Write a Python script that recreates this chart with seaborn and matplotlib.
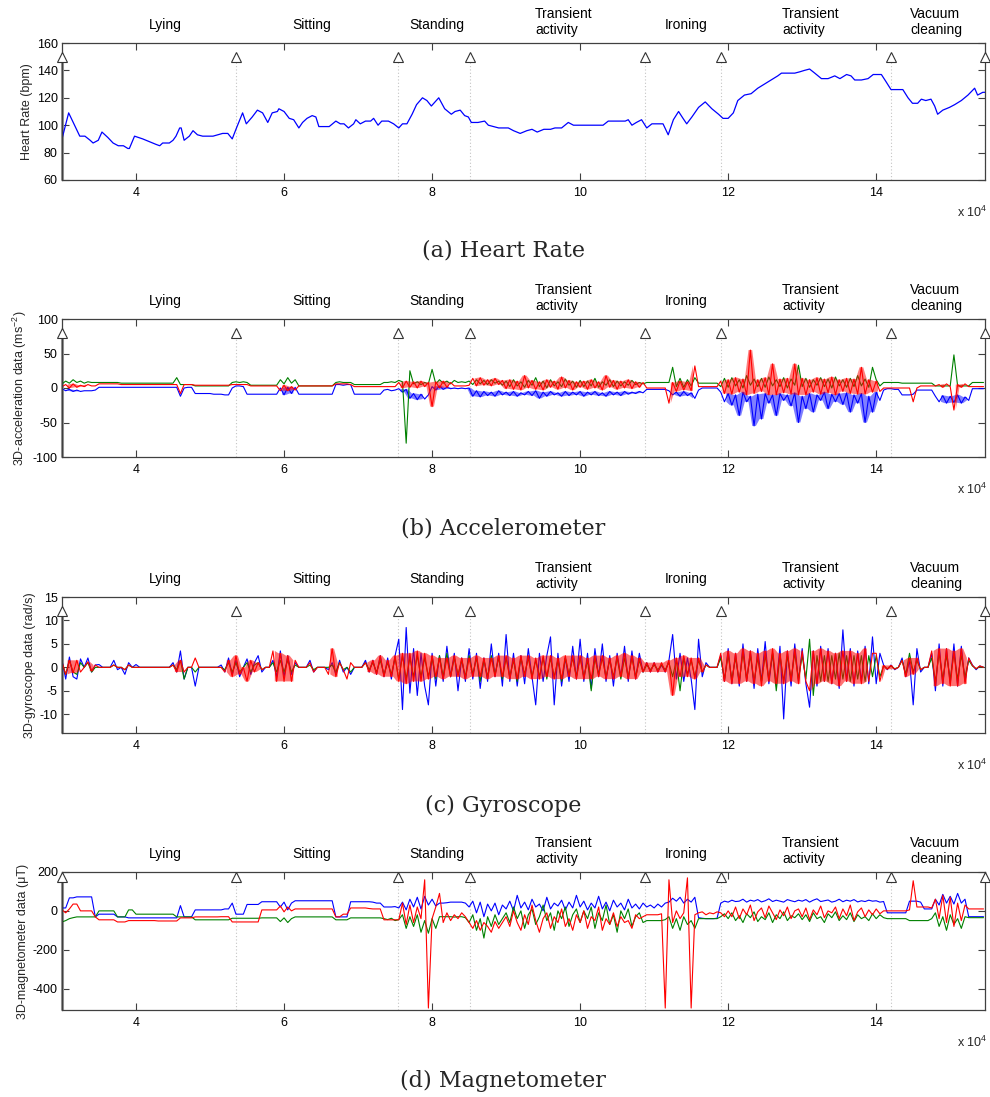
import numpy as np
import pandas as pd
import matplotlib
matplotlib.use("Agg")
import matplotlib.pyplot as plt
import seaborn as sns

sns.set_theme(style="ticks")
plt.rcParams["font.family"] = ["Liberation Sans", "DejaVu Sans"]
plt.rcParams["axes.unicode_minus"] = False
plt.rcParams["mathtext.fontset"] = "custom"
plt.rcParams["mathtext.rm"] = "Liberation Sans"
plt.rcParams["mathtext.it"] = "Liberation Sans:italic"

# ---------------- data (time in units of 1e4 samples) ----------------
boundaries = [3.0, 5.35, 7.54, 8.51, 10.88, 11.90, 14.20, 15.47]
activity_names = ["Lying", "Sitting", "Standing", "Transient\nactivity",
                  "Ironing", "Transient\nactivity", "Vacuum\ncleaning"]
activity_pos = [4.40, 6.38, 8.07, 9.78, 11.43, 13.12, 14.81]

hr_points = [(3.00, 90), (3.09, 109), (3.17, 100), (3.24, 92), (3.31, 92), (3.38, 89), (3.42, 87),
             (3.49, 89), (3.54, 95), (3.62, 91), (3.69, 87), (3.76, 85), (3.83, 85), (3.89, 83),
             (3.91, 83), (3.98, 92), (4.09, 90), (4.18, 88), (4.27, 86), (4.32, 85), (4.36, 87),
             (4.45, 87), (4.50, 89), (4.54, 92), (4.59, 98), (4.61, 98), (4.65, 89), (4.72, 92),
             (4.77, 96), (4.83, 93), (4.90, 92), (5.04, 92), (5.17, 94), (5.24, 94), (5.30, 90),
             (5.35, 97), (5.44, 109), (5.49, 101), (5.57, 106), (5.64, 111), (5.71, 109), (5.78, 102),
             (5.84, 109), (5.91, 110), (5.93, 112), (6.00, 110), (6.07, 105), (6.13, 104), (6.20, 98),
             (6.25, 102), (6.31, 105), (6.38, 107), (6.43, 106), (6.47, 99), (6.61, 99), (6.70, 103),
             (6.76, 101), (6.81, 101), (6.87, 98), (6.94, 101), (6.97, 104), (7.03, 101), (7.10, 103),
             (7.17, 103), (7.21, 105), (7.27, 100), (7.32, 103), (7.41, 103), (7.48, 101), (7.55, 98),
             (7.60, 101), (7.66, 101), (7.73, 108), (7.79, 115), (7.87, 120), (7.93, 118), (7.99, 114),
             (8.04, 117), (8.09, 120), (8.17, 112), (8.26, 108), (8.31, 110), (8.38, 111), (8.44, 107),
             (8.49, 106), (8.53, 102), (8.62, 102), (8.71, 103), (8.76, 100), (8.90, 98), (9.03, 98),
             (9.10, 96), (9.19, 94), (9.28, 96), (9.35, 97), (9.42, 95), (9.51, 97), (9.60, 97),
             (9.66, 98), (9.75, 98), (9.84, 102), (9.91, 100), (10.02, 100), (10.11, 100), (10.20, 100),
             (10.31, 100), (10.38, 103), (10.49, 103), (10.61, 103), (10.65, 104), (10.70, 100),
             (10.76, 102), (10.83, 104), (10.90, 98), (10.97, 101), (11.01, 101), (11.12, 101),
             (11.19, 93), (11.26, 104), (11.33, 110), (11.39, 105), (11.44, 101), (11.51, 106),
             (11.60, 113), (11.69, 117), (11.78, 112), (11.87, 108), (11.93, 105), (12.00, 105),
             (12.07, 109), (12.13, 118), (12.22, 122), (12.31, 123), (12.40, 127), (12.49, 130),
             (12.58, 133), (12.67, 136), (12.72, 138), (12.81, 138), (12.90, 138), (12.97, 139),
             (13.03, 140), (13.10, 141), (13.17, 138), (13.26, 134), (13.35, 134), (13.44, 136),
             (13.51, 134), (13.60, 137), (13.66, 136), (13.71, 133), (13.80, 133), (13.89, 134),
             (13.96, 137), (14.07, 137), (14.13, 132), (14.20, 126), (14.36, 126), (14.43, 120),
             (14.49, 116), (14.56, 116), (14.61, 119), (14.67, 118), (14.74, 119), (14.79, 114),
             (14.83, 108), (14.90, 111), (14.99, 113), (15.06, 115), (15.15, 118), (15.24, 122),
             (15.33, 127), (15.37, 122), (15.44, 124), (15.50, 124)]

# sensor rows: row r holds samples at t = 3 + r + 0.05*j
acc_blue = [
    [-1, -4, -2, -5, -3, -5, -4, -4, -4, -3, 1, 1, 1, 1, 1, 1, 1, 1, 1, 1],
    [1, 1, 1, 1, 1, 1, 1, 1, 1, 1, 1, 1, -12, 0, 1, 1, -8, -8, -8, -8],
    [-8, -9, -9, -9, -10, -10, 0, 3, 3, 2, -9, -9, -9, -9, -9, -9, -9, -9, -9, 0],
    [-10, 1, -8, 1, -9, -9, -9, -9, -9, -9, -9, -9, -9, -9, 5, 5, 4, 5, 5, -9],
    [-9, -9, -9, -9, -9, -9, -9, -3, -2, -4, -3, -1, -6, -2, -15, -8, -17, -9, -16, -10],
    [2, -3, 3, -2, 1, -1, 0, -1, 0, -1, 0, -12, -4, -13, -5, -11, -6, -12, -4, -10],
    [-6, -11, -5, -12, -7, -10, -5, -11, -4, -15, -6, -12, -5, -10, -7, -12, -5, -11, -6, -10],
    [-5, -12, -6, -10, -5, -11, -7, -12, -5, -10, -6, -11, -5, -9, -6, -8, -5, -7, -2, -2],
    [-2, -2, -2, -2, -4, -10, -6, -12, -5, -11, -7, -15, -3, 0, 0, 0, 0, 0, -6, -20],
    [-8, -25, -10, -40, -6, -20, -12, -55, -9, -45, -8, -22, -10, -40, -8, -18, -10, -26, -7, -50],
    [-12, -30, -8, -35, -10, -18, -6, -30, -9, -20, -8, -24, -7, -35, -10, -22, -8, -50, -12, -35],
    [-6, -18, -3, -1, -1, -2, -2, -10, -10, -10, -9, -3, -3, -3, -3, -3, -12, -20, -11, -22],
    [-12, -21, -10, -22, -13, -18, -1, -1, -1, -1],
]
acc_green = [
    [6, 10, 7, 12, 8, 10, 7, 9, 8, 8, 8, 8, 8, 8, 8, 8, 7, 7, 7, 7],
    [7, 7, 7, 7, 7, 7, 7, 7, 7, 7, 7, 15, 5, 5, 5, 5, 3, 3, 3, 3],
    [3, 3, 3, 3, 3, 3, 8, 9, 8, 9, 8, 4, 4, 4, 4, 4, 4, 4, 4, 12],
    [6, 15, 7, 12, 3, 3, 3, 3, 3, 3, 3, 3, 3, 3, 8, 9, 8, 8, 8, 5],
    [5, 5, 5, 5, 5, 5, 5, 8, 8, 9, 8, 11, 9, -80, 25, 6, 9, 5, 8, 6],
    [27, 6, 12, 7, 10, 6, 11, 8, 9, 8, 10, 5, 12, 6, 11, 5, 12, 7, 10, 4],
    [10, 2, 12, 3, 9, 1, 11, 4, 15, 2, 10, 0, 12, 3, 9, 2, 13, 4, 10, 1],
    [11, 2, 10, 3, 14, 1, 9, 4, 12, 2, 10, 3, 9, 4, 11, 5, 8, 6, 8, 8],
    [8, 8, 8, 8, 8, 30, 2, 14, 1, 12, 3, 15, 7, 7, 7, 7, 7, 7, 2, 14],
    [1, 15, 3, 12, 0, 18, 4, 13, 2, 14, 1, 16, 3, 12, 2, 15, 0, 13, 4, 33],
    [2, 14, 1, 12, 4, 15, 2, 13, 0, 16, 3, 12, 1, 14, 2, 18, 3, 13, 1, 30],
    [12, 3, 8, 8, 8, 8, 8, 7, 7, 7, 7, 7, 7, 7, 7, 7, 3, 3, 3, 3],
    [3, 48, 3, 3, 3, 3, 8, 8, 8, 8],
]
acc_red = [
    [2, 5, 0, 6, 1, 4, 2, 5, 3, 3, 6, 6, 6, 6, 6, 6, 5, 5, 5, 5],
    [5, 5, 5, 5, 5, 5, 5, 5, 5, 5, 5, 5, -8, 5, 5, 5, 4, 4, 4, 4],
    [4, 4, 4, 4, 4, 4, 5, 5, 5, 5, 5, 3, 3, 3, 3, 3, 3, 3, 3, -4],
    [4, -4, 2, -3, 3, 3, 3, 3, 3, 3, 3, 3, 3, 3, 6, 6, 6, 6, 5, 2],
    [2, 2, 2, 2, 2, 2, 2, 2, 2, 2, 2, 8, 0, 10, 1, 9, 0, 10, 2, 8],
    [-27, 9, 0, 10, 1, 8, 3, 3, 3, 3, 4, 14, 3, 15, 4, 12, 3, 14, 5, 11],
    [-1, 12, -2, 10, -3, 18, 0, 11, -2, 9, -3, 12, 1, 10, -2, 16, 0, 11, -3, 9],
    [1, 10, -2, 12, 0, 9, -3, 18, 1, 11, -2, 10, 0, 12, -1, 9, 1, 8, 0, 0],
    [0, 0, 0, 0, -22, 8, -5, 10, -3, 9, -4, 32, 2, 2, 2, 2, 2, 2, 10, -8],
    [12, -9, 15, -6, 13, -10, 55, -8, 12, -5, 15, -10, 35, -10, 13, -7, 14, -9, 35, -10],
    [14, -10, 12, -6, 15, -9, 13, -7, 16, -10, 12, -5, 14, -8, 13, -9, 30, -9, 12, -6],
    [10, -5, 0, 0, 0, 0, 0, 0, 0, 0, -20, 0, 3, 3, 3, 3, 3, 5, 1, 6],
    [2, -32, 5, 1, 6, 2, 2, 2, 2, 2],
]

gyro_blue = [
    [1.5, -2.5, 2.2, -2, -2.5, 1.8, 0, 2, -1, 0.5, 0.6, 0, 0, 0, 1.5, -0.5, 0, -1.5, 1, 0],
    [0.6, 0, 0, 0, 0, 0, 0, 0, 0, 0, 1, -1, 3.5, -2.5, 0, 0, -4, 0, 0, 0],
    [0, 0, 0, 0.5, -1, 2, -1.5, 1.5, -2, 0, 1.8, -1.5, 1, 2.5, -1, 0, 0, 1.5, -2, 3.5],
    [-2, 2.5, -1.5, 1, 0, 0, 0, 1.5, -1, 0, 0, 0, -0.5, 1, -1.5, 1.5, -1, 0, -1.5, 0],
    [0, 0, 1.5, -1, 1.5, -1.5, 2.5, -2, 2, -2.5, 2.5, 6, -9, 8.5, -5.5, 4, -6, 3, -4, -8],
    [3, -4, 2.5, -3, 4.5, -2, 3, -5, 2, -3, 4, -2.5, 3, -4.5, 2, -3, 5, -2, 3, -4],
    [7, -3, 3, -4, 2.5, -3.5, 4, -2, -8, 3, -3, 2.5, 6.5, -8, 3, -4, 2, -3, 4.5, -2.5],
    [6, -3, 3, -4.5, 4, -2, 5, -3, 2.5, -4, 3, -2, 4.5, -3, 3.5, -2.5, 3, -1, 1, -1],
    [1, -1, 0.5, -1, 1.5, 7, -2.5, 3, -3, 2, -2.5, -9, 6, -2, 1, 0, 0, 0, 2.5, -3],
    [4, -3.5, 3, -4, 5, -3, 3.5, -4.5, 4, -3, 5.5, -3.5, 3, -4, 4.5, -11, 3.5, -4, 5, -3],
    [4, -3.5, -8.5, 3.5, -4, 4.5, -3, 4, -3.5, 3, -4.5, 8, -3, 4, -4, 3.5, -3, 4.5, -3.5, 6.5],
    [-3.5, 3, 0.5, -0.5, 0.5, -0.5, 0, 2, -2, 1.5, -8, 4, -1, 0, 0, 3, -5, 5, -4, 4],
    [-3.5, 5, -4, 4.5, -3, 2, 0.5, -0.5, 0.3, 0],
]
gyro_green = [
    [1, -1.5, 1.5, -1, -1.5, 1, 0, 1, -1, 0, 0, 0, 0, 0, 0.5, 0, 0, -0.5, 0.5, 0],
    [0, 0, 0, 0, 0, 0, 0, 0, 0, 0, 0.5, -0.5, 1.5, -2.5, 0, 0, -1, 0, 0, 0],
    [0, 0, 0, 0, -0.5, 1, -1, 1, -1, 0, 1, -1, 0.5, 1, -0.5, 0, 0, 1, -1, 1.5],
    [-1, 1.5, -1, 0.5, 0, 0, 0, 0.5, -0.5, 0, 0, 0, 0, 0.5, -1, 1, -0.5, 0, -1, 0],
    [0, 0, 1, -0.5, 1, -1, 1.5, -1.5, 1, -1.5, 2, -2.5, 2.5, -2.5, 2, -2, 2.5, -2, 2, -2],
    [2, -2.5, 2.5, -2, 3, -2, 2, -1.5, 1.5, -2, 2.5, -1.5, 2, -3, 1.5, -2, 2.5, -1.5, 2, -2.5],
    [2, -2, 1.5, -3, 2, -1.5, 2, -2, 1.5, -2, 2, -2.5, 2, -2, 1.5, -3, 2, -1.5, 2, -2],
    [2, -2, 1.5, -5, 2, -1.5, 2, -2, 1.5, -2, 2, -2.5, 2, -2, 2, -2, 1.5, -1, 0.5, -0.5],
    [0.5, -0.5, 0.5, -0.5, 1, -2, 1.5, -5, 2, -1.5, 1.5, -2, 1.5, -1, 0.5, 0, 0, 0, 2, -2.5],
    [2.5, -2.5, 2, -3, 3, -2.5, 2.5, -3, 2, -3, 2.5, -2.5, 3, -5, 2.5, -3, 2.5, -2.5, 3, -2.5],
    [2.5, -2.5, 6, -6, 2.5, -3, 2.5, -3, 2.5, -2.5, 3, -2.5, 2.5, -3, 2.5, -2.5, 2.5, -3, 2.5, -2],
    [2.5, -2, 0.3, -0.3, 0.3, -0.3, 0, 1.5, -1.5, 3, -1, 1.5, -0.5, 0, 0, 2, -3, 3, -2.5, 2.5],
    [-2.5, 3, -2.5, 2.5, -2, 1.5, 0.3, -0.3, 0.2, 0],
]
gyro_red = [
    [1.2, -1.5, 1.5, -1.2, 1.5, -1, 0, 1.2, -0.8, 0.5, 0, 0, 0, 0, 0.5, 0, 0, -0.5, 0.5, 0],
    [0, 0, 0, 0, 0, 0, 0, 0, 0, 0, 0.5, -1, 1.5, -1, 0, 0, 2, 0, 0, 0],
    [0, 0, 0, 0, -1, 1.5, -2, 2.5, -1.5, 0, -3, 1.5, -1, 1, -0.5, 0, 0, 3.5, -3, 3],
    [-3, 2.5, -3, 1.5, 0, 0, 0, 1, -1, 0, 0, 0, -1.5, 4, -2, 1, -0.5, -2.5, 1, 0],
    [0, 0, 1, -1, 1.5, -1.5, 2.5, -2, 1.5, -2, 2.5, -3, 3, -3.5, 3, -3, 3.5, -3, 3, -2.5],
    [2.5, -2, 2, -2.5, 2, -2, 2.5, -2, 2, -2.5, 2, -2, 2.5, -2, 2, -2.5, 2, -2, 2.5, -2],
    [2.5, -2.5, 2, -2.5, 2.5, -2, 2.5, -2.5, 2, -2.5, 2.5, -2, 2.5, -2.5, 2, -2.5, 2.5, -2, 2.5, -2.5],
    [2.5, -2.5, 2, -2.5, 2.5, -2, 2.5, -2.5, 2, -2.5, 2.5, -2, 3, -2.5, 2.5, -2.5, 2, -1, 1, -1],
    [1, -1, 1, -1, 1.5, -6, 2, -2, 2.5, -2, 2, -2.5, 2, -1, 0.5, 0, 0, 0, 3, -3],
    [3.5, -3.5, 3, -3.5, 4, -3, 3.5, -3.5, 3, -4, 3.5, -3, 4, -3.5, 3, -3.5, 3.5, -3, 4, -3.5],
    [3.5, -3, -5, 3.5, -3.5, 4, -3, 3.5, -3.5, 3, -4, 3.5, -3, 3.5, -3.5, 3, -3.5, 4, -3, 3],
    [3, -3, 0.4, -0.4, 0.4, -0.4, 0, 1.5, -2, 2, -1.5, 2, -0.5, 0, 0, 3.5, -4, 4, -3.5, 4],
    [-4, 3.5, -4, 4, -3.5, 2, 0.4, -0.3, 0.3, 0],
]

mag_blue = [
    [15, 15, 67, 67, 72, 72, 72, 72, 72, -31, -17, -17, -17, -17, -17, -31, -31, -31, -36, -36],
    [-36, -36, -36, -36, -36, -36, -36, -36, -36, -36, -36, -36, 27, -31, -31, -31, 5, 5, 5, 5],
    [5, 5, 5, 5, 10, 10, 40, -17, -17, -17, 33, 33, 33, 33, 47, 47, 47, 47, 47, 20],
    [45, 5, 40, 52, 52, 52, 52, 52, 52, 52, 52, 52, 52, 52, -31, -31, -31, -31, 47, 47],
    [47, 47, 47, 47, 45, 40, 40, 20, 20, 20, 22, 15, 45, 5, 60, 20, 70, 10, 75, 30],
    [60, 25, 40, 40, 42, 45, 45, 45, 45, 40, 20, 50, -10, 45, -30, 35, 0, 40, -20, 30],
    [10, 50, 0, 80, 15, 45, 5, 60, 20, 35, 0, 70, 10, 40, 25, 55, 5, 45, 15, 80],
    [20, 50, 5, 40, 15, 75, 10, 45, 0, 55, 20, 40, 5, 60, 15, 35, 10, 40, 20, 30],
    [15, 35, 20, 40, 45, 65, 50, 70, 40, 60, 45, 70, -35, -38, -40, -40, -40, -38, 40, 50],
    [45, 55, 48, 50, 60, 45, 55, 50, 58, 46, 52, 62, 48, 55, 50, 45, 58, 52, 47, 55],
    [50, 58, 45, 55, 62, 48, 52, 56, 45, 50, 60, 47, 55, 50, 58, 46, 52, 48, 55, 50],
    [52, 45, 48, -10, -10, -10, -10, -10, -10, 50, 50, 50, 45, 10, 10, 10, 60, 30, 85, 40],
    [75, 35, 90, 40, 60, -30, -30, -30, -30, -30],
]
mag_green = [
    [-57, -50, -40, -35, -31, -31, -31, -31, -31, -31, 0, 0, 0, 0, 0, -31, -31, -31, 5, 5],
    [-17, -17, -17, -17, -17, -17, -17, -17, -17, -17, -17, -31, -31, -31, -31, -31, -46, -46, -46, -46],
    [-46, -46, -46, -46, -46, -46, -38, -38, -38, -38, -38, -38, -38, -38, -36, -36, -36, -36, -36, -55],
    [-36, -60, -40, -31, -31, -31, -31, -31, -31, -31, -31, -31, -31, -31, -46, -46, -46, -46, -36, -36],
    [-36, -36, -36, -36, -36, -36, -36, -40, -45, -38, -50, -45, -20, -90, -30, -80, -20, -110, -50, -115],
    [-40, -90, -30, -30, -30, -30, -32, -30, -30, -35, -60, -20, -100, -40, -140, -30, -80, -20, -70, -40],
    [-10, -60, 20, -40, 0, -90, -20, 10, -70, -30, 30, -50, -10, -100, 0, -40, 20, -80, -20, 10],
    [-60, 0, -40, 20, -90, -10, -50, 30, -70, -20, -110, 0, -40, 10, -80, -30, -10, -60, -50, -50],
    [-50, -50, -50, -45, -30, -90, -40, -100, -30, -70, -50, -90, -40, -40, -40, -40, -40, -40, -30, -15],
    [-40, -10, -50, -25, -60, -15, -35, -5, -55, -30, -45, -10, -60, -20, -40, -5, -50, -25, -35, -15],
    [-45, -20, -55, -10, -40, -30, -60, -15, -35, -5, -50, -25, -45, -10, -55, -20, -40, -30, -50, -15],
    [-40, -20, -35, -40, -40, -40, -40, -40, -40, -50, -50, -50, -50, -50, -50, -40, -10, -80, -30, -100],
    [-20, -70, -40, -90, -30, -35, -35, -35, -35, -35],
]
mag_red = [
    [5, -10, 10, 35, 35, 0, 0, 0, 0, -31, -46, -46, -46, -46, -46, -57, -57, -57, -50, -50],
    [-50, -50, -50, -50, -50, -50, -52, -52, -52, -52, -52, -52, -36, -36, -36, -36, -31, -31, -31, -31],
    [-31, -31, -31, -30, -30, -30, -57, -57, -57, -57, -57, -57, -57, -57, 5, 5, 5, 5, 5, 25],
    [-5, 20, 0, 10, 10, 10, 10, 10, 10, 10, 10, 10, 10, 10, -31, -31, -17, -17, 15, 15],
    [15, 15, 15, 12, 10, 10, 10, -46, -46, -46, -46, -46, 40, -70, 30, -60, 20, -40, 160, -500],
    [-40, 20, 90, -60, -10, -50, -20, -40, -10, -30, -60, -90, -50, -100, -60, -80, -110, -55, -90, -60],
    [-30, -80, 0, -60, -100, -20, -70, 30, -50, -110, -40, -10, -90, -30, -60, 10, -80, -40, -100, -20],
    [-60, 0, -90, -30, -50, 20, -100, -40, -70, -10, -80, -30, -60, -50, -90, -20, -40, -30, -20, -20],
    [-20, -20, -15, -500, 160, -60, 0, -40, -10, 170, -500, -20, -10, -5, -20, -10, -15, -5, -10, -30],
    [0, -30, 20, -40, 10, -20, 30, -50, -5, 15, -35, 25, -10, -45, 5, -25, 20, -40, 0, 10],
    [-30, 15, -45, 5, -20, 25, -35, 0, -10, 20, -40, 10, -25, 30, -50, -5, 15, -30, 5, -20],
    [10, -15, 0, 0, 0, 0, 0, 0, 0, 5, 155, 20, 20, 20, 20, 15, 60, -40, 80, -60],
    [70, -80, 40, -50, 30, 10, 10, 10, 10, 10],
]

BLUE, GREEN, RED = "#0000ff", "#008000", "#ff0000"


def rows_to_frame(rows):
    t, v = [], []
    for r, row in enumerate(rows):
        for j, val in enumerate(row):
            t.append(3.0 + r + 0.05 * j)
            v.append(val)
    return pd.DataFrame({"t": t, "v": v})


def draw_band(ax, df, color, alpha):
    # shade the span of consecutive samples only inside runs of rapid oscillation
    t = df["t"].to_numpy()
    v = df["v"].to_numpy(dtype=float)
    d = np.diff(v)
    turn = np.r_[False, d[:-1] * d[1:] < 0, False]      # sample is a local turning point
    dense = turn[:-1] & turn[1:]                          # both ends of the pair turn
    tm = (t[:-1] + t[1:]) / 2
    hi = np.maximum(v[:-1], v[1:])
    lo = np.minimum(v[:-1], v[1:])
    ax.fill_between(tm, lo, hi, where=dense, color=color, alpha=alpha,
                    linewidth=0, zorder=2)


hr_df = pd.DataFrame(hr_points, columns=["t", "v"])

W, H = 990, 1097
panels = [
    dict(top=43, bot=180, ylim=(60, 160), yticks=[60, 80, 100, 120, 140, 160],
         ylabel="Heart Rate (bpm)", tri=150, caption="(a) Heart Rate", cap_y=250,
         series=[(hr_df, BLUE, 0.9, 0)]),
    dict(top=319, bot=457, ylim=(-100, 100), yticks=[-100, -50, 0, 50, 100],
         ylabel="3D-acceleration data (ms$^{-2}$)", tri=80, caption="(b) Accelerometer", cap_y=529,
         series=[(rows_to_frame(acc_blue), BLUE, 0.8, 0.5), (rows_to_frame(acc_green), GREEN, 0.8, 0),
                 (rows_to_frame(acc_red), RED, 0.8, 0.5)]),
    dict(top=597, bot=733, ylim=(-14, 15), yticks=[-10, -5, 0, 5, 10, 15],
         ylabel="3D-gyroscope data (rad/s)", tri=12, caption="(c) Gyroscope", cap_y=806,
         series=[(rows_to_frame(gyro_blue), BLUE, 0.8, 0), (rows_to_frame(gyro_green), GREEN, 0.8, 0),
                 (rows_to_frame(gyro_red), RED, 0.8, 0.55)]),
    dict(top=872, bot=1010, ylim=(-510, 200), yticks=[-400, -200, 0, 200],
         ylabel="3D-magnetometer data (\u03bcT)", tri=175, caption="(d) Magnetometer", cap_y=1081,
         series=[(rows_to_frame(mag_blue), BLUE, 0.8, 0), (rows_to_frame(mag_green), GREEN, 0.8, 0),
                 (rows_to_frame(mag_red), RED, 0.8, 0)]),
]

fig = plt.figure(figsize=(W / 100, H / 100), dpi=100)
fig.patch.set_facecolor("white")
L, R = 62, 985
AX_COLOR = "#404040"

for p in panels:
    ax = fig.add_axes([L / W, 1 - p["bot"] / H, (R - L) / W, (p["bot"] - p["top"]) / H])
    ax.set_facecolor("white")
    for df, col, lw, band_alpha in p["series"]:
        if band_alpha > 0:
            draw_band(ax, df, col, band_alpha)
        sns.lineplot(data=df, x="t", y="v", ax=ax, color=col, linewidth=lw,
                     estimator=None, sort=False, legend=False, zorder=2)
    ax.set_xlim(boundaries[0], boundaries[-1])
    ax.set_ylim(*p["ylim"])
    ax.set_xticks([4, 6, 8, 10, 12, 14])
    ax.set_xticklabels(["4", "6", "8", "10", "12", "14"])
    ax.set_yticks(p["yticks"])
    ax.set_yticklabels([str(v) for v in p["yticks"]])
    ax.set_xlabel("")
    ax.set_ylabel(p["ylabel"], fontsize=9, labelpad=3)
    ax.tick_params(axis="both", direction="in", length=5, width=0.8, color=AX_COLOR,
                   labelsize=9, top=True, right=True, labelcolor="black")
    ax.tick_params(axis="x", pad=5)
    ax.tick_params(axis="y", pad=3)
    for s in ax.spines.values():
        s.set_color(AX_COLOR)
        s.set_linewidth(0.9)
    ax.grid(False)

    # activity boundaries
    ax.vlines(boundaries[0], p["ylim"][0], p["tri"], colors="#9a9a9a",
              linewidth=2.2, zorder=1, clip_on=False)
    ax.vlines(boundaries[1:], p["ylim"][0], p["tri"], colors="#c4c4c4",
              linestyles=(0, (1, 2)), linewidth=0.8, zorder=1)
    ax.plot(boundaries, [p["tri"]] * len(boundaries), linestyle="none", marker="^",
            markersize=7, markerfacecolor="white", markeredgecolor="#333333",
            markeredgewidth=0.8, clip_on=False, zorder=6)

    # activity names above the axes
    for name, xpos in zip(activity_names, activity_pos):
        off = 6 if "\n" in name else 11
        ax.annotate(name, xy=(xpos, 1), xycoords=("data", "axes fraction"),
                    xytext=(0, off), textcoords="offset pixels", ha="center",
                    va="bottom", multialignment="left", fontsize=10, color="black",
                    annotation_clip=False)

    ax.annotate("x 10$^{4}$", xy=(1, 0), xycoords="axes fraction", xytext=(2, -32),
                textcoords="offset pixels", ha="right", va="center", fontsize=9)

    fig.text(503 / W, 1 - p["cap_y"] / H, p["caption"], ha="center", va="center",
             family="DejaVu Serif", fontsize=16)

fig.savefig("out.png", dpi=100, facecolor="white")
